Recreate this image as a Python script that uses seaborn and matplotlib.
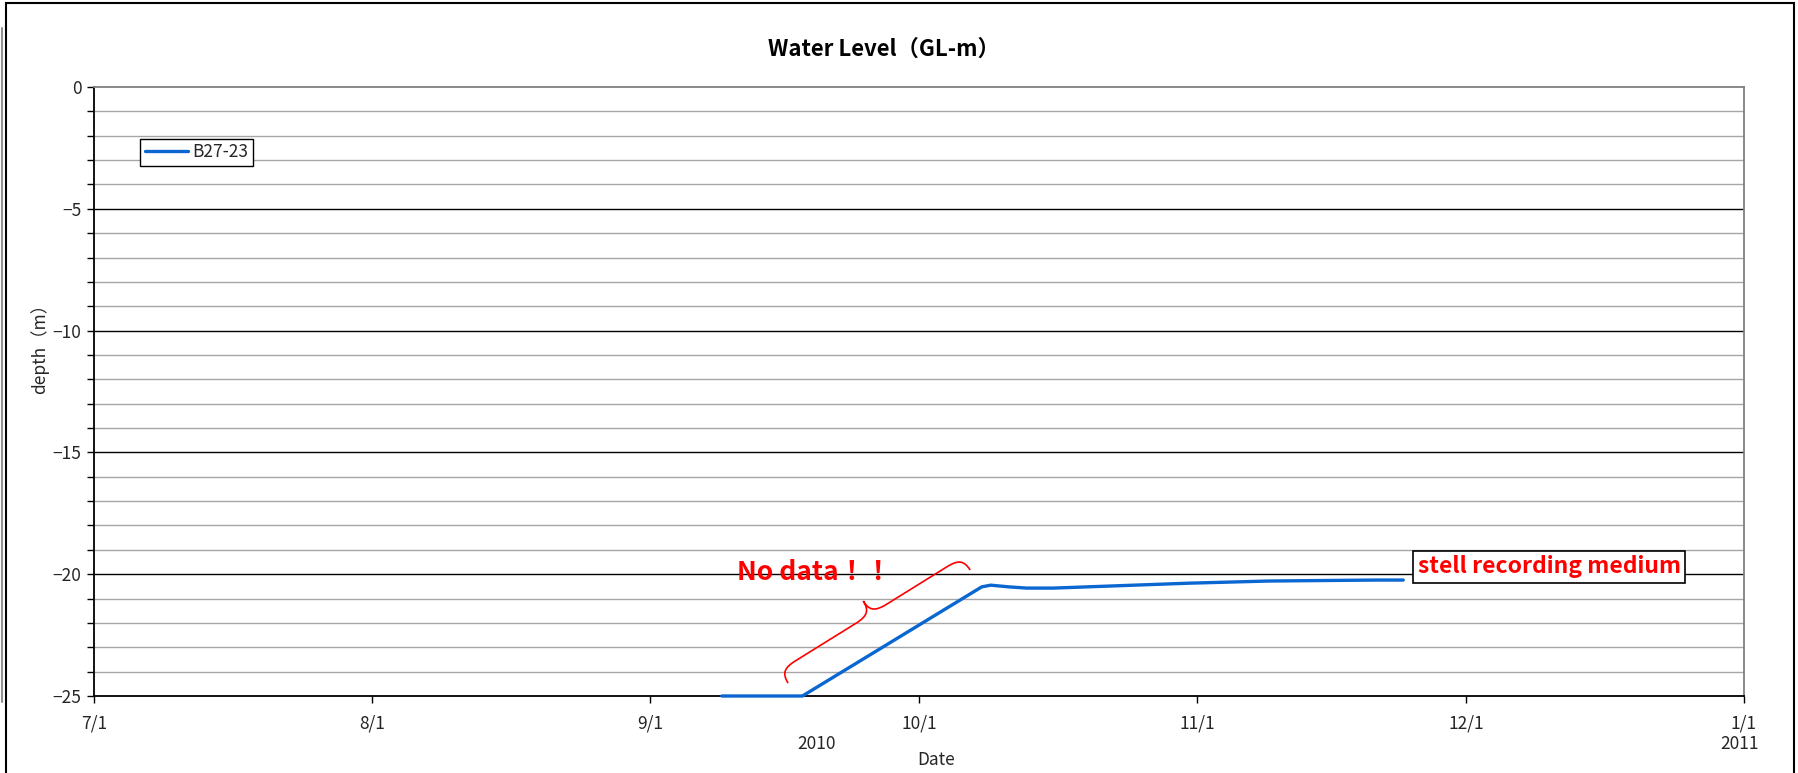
import numpy as np
import pandas as pd
import matplotlib
matplotlib.use("Agg")
import matplotlib.pyplot as plt
import matplotlib.dates as mdates
from matplotlib.path import Path
from matplotlib.patches import PathPatch, Rectangle
from matplotlib.lines import Line2D
import seaborn as sns

# ---- data -------------------------------------------------------------
well_name = "B27-23"
obs_dates = ["2010-09-09", "2010-09-18", "2010-10-08", "2010-10-09", "2010-10-11",
             "2010-10-13", "2010-10-16", "2010-10-19", "2010-10-22", "2010-10-25",
             "2010-10-28", "2010-10-31", "2010-11-03", "2010-11-06", "2010-11-09",
             "2010-11-12", "2010-11-15", "2010-11-18", "2010-11-21", "2010-11-24"]
obs_depth = [-25.00, -25.00, -20.52, -20.45, -20.52,
             -20.57, -20.57, -20.53, -20.49, -20.45,
             -20.41, -20.37, -20.34, -20.31, -20.28,
             -20.27, -20.26, -20.25, -20.24, -20.24]

month_ticks = ["2010-07-01", "2010-08-01", "2010-09-01", "2010-10-01",
               "2010-11-01", "2010-12-01", "2011-01-01"]
month_labels = ["7/1", "8/1", "9/1", "10/1", "11/1", "12/1", "1/1"]
depth_major = [0, -5, -10, -15, -20, -25]
depth_minor = list(range(0, -26, -1))

# ---- figure -----------------------------------------------------------
W, H, DPI = 1798, 773, 100
sns.set_theme(style="white")
plt.rcParams["font.family"] = ["Noto Sans CJK JP", "DejaVu Sans"]
plt.rcParams["axes.unicode_minus"] = True

fig = plt.figure(figsize=(W / DPI, H / DPI), dpi=DPI, facecolor="white")
ax = fig.add_axes([94 / W, 1 - 696 / H, 1650 / W, 609 / H])
ax.set_facecolor("white")

df = pd.DataFrame({"date": pd.to_datetime(obs_dates), "depth": obs_depth})
sns.lineplot(data=df, x="date", y="depth", ax=ax, color="#0A66D0",
             linewidth=2.4, estimator=None, label=well_name, zorder=5)
for ln in ax.lines:
    ln.set_clip_on(False)

x0, x1 = pd.Timestamp(month_ticks[0]), pd.Timestamp(month_ticks[-1])
ax.set_xlim(x0, x1)
ax.set_ylim(min(depth_major), max(depth_major))

# horizontal grid: black every 5 m, grey every metre
for d in depth_minor:
    if d in (0, -25):
        continue
    if d % 5 == 0:
        ax.axhline(d, color="black", lw=1.0, zorder=1)
    else:
        ax.axhline(d, color="#a6a6a6", lw=1.0, zorder=1)

ax.set_yticks(depth_major)
ax.set_yticklabels([str(v) if v == 0 else "\u2212" + str(-v) for v in depth_major])
ax.set_yticks(depth_minor, minor=True)
ax.set_xticks(pd.to_datetime(month_ticks))
ax.set_xticklabels(month_labels)

ax.tick_params(axis="y", which="both", direction="out", length=5, width=1,
               color="black", labelsize=12.5, pad=4, left=True)
ax.tick_params(axis="x", which="major", direction="out", length=5, width=1,
               color="black", labelsize=12.5, pad=8, bottom=True)
ax.tick_params(axis="x", which="minor", bottom=False)

for side in ("left", "bottom"):
    ax.spines[side].set_color("black")
    ax.spines[side].set_linewidth(1.3)
for side in ("top", "right"):
    ax.spines[side].set_visible(True)
    ax.spines[side].set_color("#808080")
    ax.spines[side].set_linewidth(1.3)

ax.set_xlabel("")
ax.set_ylabel("")

# legend
leg = ax.legend(loc="center left", bbox_to_anchor=(0.028, 0.893), frameon=True,
                fancybox=False, edgecolor="black", framealpha=1, borderpad=0.25,
                handlelength=2.5, handletextpad=0.25, borderaxespad=0,
                prop={"size": 12.5})
leg.get_frame().set_linewidth(1.0)

# titles and axis captions
fig.text(884 / W, 1 - 49 / H, "Water Level\uff08GL-m\uff09", ha="center", va="center",
         fontsize=16, fontweight="bold", color="black")
fig.text(40 / W, 1 - 344 / H, "depth\uff08m\uff09", ha="center", va="center",
         rotation=90, fontsize=12.5)
fig.text(817 / W, 1 - 744 / H, "2010", ha="center", va="center", fontsize=12.5)
fig.text(1740 / W, 1 - 744 / H, "2011", ha="center", va="center", fontsize=12.5)
fig.text(936 / W, 1 - 760 / H, "Date", ha="center", va="center", fontsize=12.5)

# annotations
day0 = mdates.date2num(x0)
ax.text(day0 + 71.7, -19.95, "No data\uff01\uff01", color="red", fontsize=19,
        fontweight="bold", ha="left", va="center", zorder=6)
ax.text(day0 + 147.6, -19.70, "stell recording medium", color="red", fontsize=16.5,
        fontweight="bold", ha="left", va="center", zorder=6,
        bbox=dict(boxstyle="square,pad=0.2", fc="white", ec="black", lw=1.2))

# curly brace marking the gap in the record
fig.canvas.draw()
A = ax.transData.transform((day0 + 77.4, -24.47))
B = ax.transData.transform((day0 + 97.7, -19.83))
L = np.hypot(*(B - A))
u = (B - A) / L
n = np.array([-u[1], u[0]])
h, r = 15.0, 18.0
local = [(0, 0), (0, 0.8 * h), (0.3 * r, h), (r, h),
         (L / 2 - r, h),
         (L / 2 - 0.2 * r, h), (L / 2, 1.3 * h), (L / 2, 2 * h),
         (L / 2, 1.3 * h), (L / 2 + 0.2 * r, h), (L / 2 + r, h),
         (L - r, h),
         (L - 0.3 * r, h), (L, 0.8 * h), (L, 0)]
codes = [Path.MOVETO, Path.CURVE4, Path.CURVE4, Path.CURVE4,
         Path.LINETO,
         Path.CURVE4, Path.CURVE4, Path.CURVE4,
         Path.CURVE4, Path.CURVE4, Path.CURVE4,
         Path.LINETO,
         Path.CURVE4, Path.CURVE4, Path.CURVE4]
pts_disp = np.array([A + a * u + b * n for a, b in local])
pts_fig = fig.transFigure.inverted().transform(pts_disp)
fig.add_artist(PathPatch(Path(pts_fig, codes), transform=fig.transFigure,
                         fc="none", ec="red", lw=1.2, zorder=7))

# outer chart frame
fig.add_artist(Rectangle((6 / W, -0.05), (1794 - 6) / W, 1 - 3 / H + 0.05,
                         transform=fig.transFigure, fc="none", ec="black", lw=1.5))
fig.add_artist(Line2D([1.5 / W, 1.5 / W], [1 - 28 / H, 1 - 702 / H],
                      transform=fig.transFigure, color="#909090", lw=1.5))

fig.savefig("out.png", dpi=DPI, facecolor="white")
